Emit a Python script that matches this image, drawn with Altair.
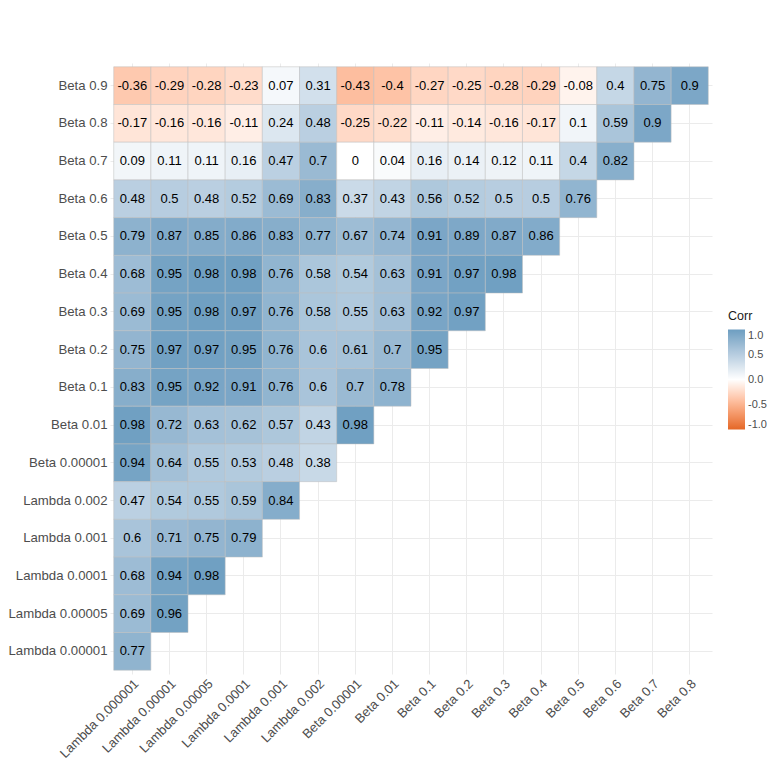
import altair as alt
import pandas as pd

x_labels = ["Lambda 0.000001", "Lambda 0.00001", "Lambda 0.00005", "Lambda 0.0001",
            "Lambda 0.001", "Lambda 0.002", "Beta 0.00001", "Beta 0.01", "Beta 0.1",
            "Beta 0.2", "Beta 0.3", "Beta 0.4", "Beta 0.5", "Beta 0.6", "Beta 0.7", "Beta 0.8"]

y_labels = ["Beta 0.9", "Beta 0.8", "Beta 0.7", "Beta 0.6", "Beta 0.5", "Beta 0.4",
            "Beta 0.3", "Beta 0.2", "Beta 0.1", "Beta 0.01", "Beta 0.00001",
            "Lambda 0.002", "Lambda 0.001", "Lambda 0.0001", "Lambda 0.00005", "Lambda 0.00001"]

row_beta_09 = [-0.36, -0.29, -0.28, -0.23, 0.07, 0.31, -0.43, -0.4, -0.27, -0.25, -0.28, -0.29, -0.08, 0.4, 0.75, 0.9]
row_beta_08 = [-0.17, -0.16, -0.16, -0.11, 0.24, 0.48, -0.25, -0.22, -0.11, -0.14, -0.16, -0.17, 0.1, 0.59, 0.9]
row_beta_07 = [0.09, 0.11, 0.11, 0.16, 0.47, 0.7, 0, 0.04, 0.16, 0.14, 0.12, 0.11, 0.4, 0.82]
row_beta_06 = [0.48, 0.5, 0.48, 0.52, 0.69, 0.83, 0.37, 0.43, 0.56, 0.52, 0.5, 0.5, 0.76]
row_beta_05 = [0.79, 0.87, 0.85, 0.86, 0.83, 0.77, 0.67, 0.74, 0.91, 0.89, 0.87, 0.86]
row_beta_04 = [0.68, 0.95, 0.98, 0.98, 0.76, 0.58, 0.54, 0.63, 0.91, 0.97, 0.98]
row_beta_03 = [0.69, 0.95, 0.98, 0.97, 0.76, 0.58, 0.55, 0.63, 0.92, 0.97]
row_beta_02 = [0.75, 0.97, 0.97, 0.95, 0.76, 0.6, 0.61, 0.7, 0.95]
row_beta_01 = [0.83, 0.95, 0.92, 0.91, 0.76, 0.6, 0.7, 0.78]
row_beta_001 = [0.98, 0.72, 0.63, 0.62, 0.57, 0.43, 0.98]
row_beta_000001 = [0.94, 0.64, 0.55, 0.53, 0.48, 0.38]
row_lambda_0002 = [0.47, 0.54, 0.55, 0.59, 0.84]
row_lambda_0001 = [0.6, 0.71, 0.75, 0.79]
row_lambda_00001 = [0.68, 0.94, 0.98]
row_lambda_000005 = [0.69, 0.96]
row_lambda_000001 = [0.77]

rows = [row_beta_09, row_beta_08, row_beta_07, row_beta_06, row_beta_05, row_beta_04,
        row_beta_03, row_beta_02, row_beta_01, row_beta_001, row_beta_000001,
        row_lambda_0002, row_lambda_0001, row_lambda_00001, row_lambda_000005, row_lambda_000001]

records = []
for yname, vals in zip(y_labels, rows):
    for xname, v in zip(x_labels, vals):
        records.append({"Var1": xname, "Var2": yname, "value": v, "label": f"{v:g}"})
df = pd.DataFrame(records)

FONT = "Liberation Sans"

xaxis = alt.Axis(labelAngle=-45, labelAlign="right", labelBaseline="top",
                 labelPadding=3, labelFontSize=13, labelColor="#4D4D4D",
                 labelFont=FONT, ticks=False, domain=False, grid=True,
                 gridColor="#EBEBEB", gridWidth=1, labelOverlap=False, zindex=0)
yaxis = alt.Axis(labelPadding=3, labelFontSize=13.2, labelColor="#4D4D4D",
                 labelFont=FONT, ticks=False, domain=False, grid=True,
                 gridColor="#EBEBEB", gridWidth=1, labelOverlap=False, zindex=0)
xscale = alt.Scale(paddingInner=0, paddingOuter=0.1)
yscale = alt.Scale(paddingInner=0, paddingOuter=0.1)

xenc = alt.X("Var1:N", sort=x_labels, title=None, scale=xscale, axis=xaxis)
yenc = alt.Y("Var2:N", sort=y_labels, title=None, scale=yscale, axis=yaxis)

base = alt.Chart(df)

tiles = base.mark_rect(stroke="#BEBEBE", strokeWidth=0.5, opacity=1, fillOpacity=1).encode(
    x=xenc, y=yenc,
    color=alt.Color("value:Q",
                    scale=alt.Scale(domain=[-1, 0, 1], range=["#E46726", "white", "#6D9EC1"],
                                    interpolate="lab"),
                    legend=alt.Legend(title="Corr", orient="none", legendX=618, legendY=247,
                                      values=[1, 0.5, 0, -0.5, -1],
                                      labelExpr="datum.value < 0 ? '-' + format(-datum.value, '.1f') : format(datum.value, '.1f')",
                                      gradientLength=100, gradientThickness=17,
                                      gradientStrokeWidth=0, titleFontSize=12.5,
                                      titleFont=FONT, titleFontWeight="normal",
                                      titleColor="#1A1A1A", titlePadding=7,
                                      labelFont=FONT, labelFontSize=11,
                                      labelColor="#4D4D4D", labelOffset=3))
)

texts = base.mark_text(font=FONT, fontSize=13, color="black").encode(
    x=xenc, y=yenc, text="label:N"
)

chart = (tiles + texts).properties(
    width=602, height=611,
    background="white",
    autosize=alt.AutoSizeParams(type="none"),
    padding={"left": 102, "top": 55, "right": 55, "bottom": 86},
).configure_view(strokeWidth=0, stroke="transparent")

chart.save("out.html", embed_options={"renderer": "svg", "actions": False})
